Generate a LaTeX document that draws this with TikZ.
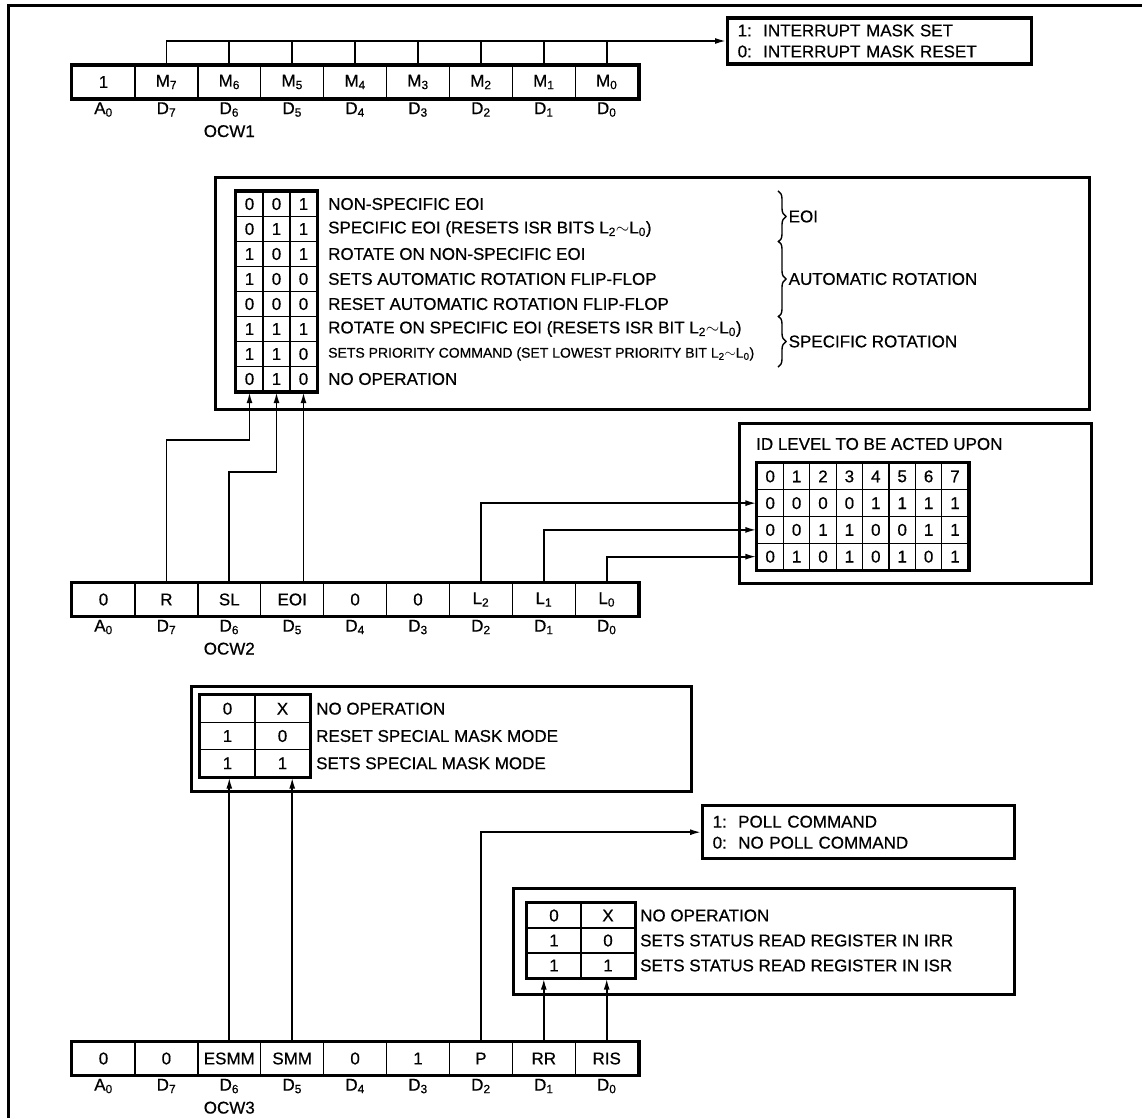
\documentclass[tikz,border=0pt]{standalone}
\usepackage{fontspec}
\setmainfont{Liberation Sans}
\newfontfamily\scanfont{Liberation Sans}[FakeBold=0.6]
\usetikzlibrary{arrows.meta,positioning,calc,decorations.pathreplacing}

\newcommand\txtfont{\scanfont\fontsize{17}{21}\selectfont}
\newcommand\smallrow{\fontsize{14}{15}\selectfont}
\newcommand\bitsub[1]{\textsubscript{#1}}

% one 9-bit command word with its bit names underneath
\newcommand\ocwregister[3]{%
  \foreach \val [count=\i from 0] in {#3}
    \node[regcell] (#1-\i) at ({103.5+62.9*\i}, #2) {\val};
  \draw[thickbox] (#1-0.north west) rectangle (#1-8.south east);
  \foreach \val [count=\i from 0] in {A\bitsub0,D\bitsub7,D\bitsub6,D\bitsub5,D\bitsub4,D\bitsub3,D\bitsub2,D\bitsub1,D\bitsub0}
    \node[bitlbl, below=2pt of #1-\i] (#1-b\i) {\val};
}

\begin{document}
\begin{tikzpicture}[
    x=1pt, y=-1pt,
    >={Latex[length=11pt,width=6pt]},
    thickbox/.style={draw, line width=3.4pt},
    regcell/.style={draw, line width=1.3pt, minimum width=62.9pt,
                    minimum height=33pt, inner sep=0pt, font=\txtfont},
    tcell/.style 2 args={draw, line width=1.3pt, minimum width=#1,
                    minimum height=#2, inner sep=0pt, font=\txtfont},
    bitlbl/.style={font=\txtfont, inner sep=1pt},
    txt/.style={font=\txtfont, inner sep=2pt, anchor=west},
    infobox/.style={thickbox, font=\txtfont, align=left, anchor=north west,
                    inner xsep=10pt},
    conn/.style={line width=1.7pt},
    arr/.style={conn, ->},
    brace/.style={decorate, decoration={brace, amplitude=8pt}, line width=1.4pt},
  ]
  \useasboundingbox (0,0) rectangle (1142,1118);
  \draw[line width=3pt] (8,1118) -- (8,6) -- (1142,6);

  % OCW1
  \ocwregister{w1}{82}{1,M\bitsub7,M\bitsub6,M\bitsub5,M\bitsub4,M\bitsub3,M\bitsub2,M\bitsub1,M\bitsub0}
  \node[bitlbl, below=6pt of w1-b2] (w1name) {OCW1};
  \node[infobox, text width=284pt, minimum height=46pt, anchor=west] (maskbox)
    at (726,41) {1:\ \ INTERRUPT MASK SET\\0:\ \ INTERRUPT MASK RESET};
  \draw[arr] (w1-1.north) |- (maskbox.west);
  \foreach \i in {2,...,8}
    \draw[conn] (w1-\i.north) -- (w1-\i.north |- maskbox.west);

  % OCW2 modes
  \node[thickbox, minimum width=874pt, minimum height=232pt, anchor=north west] (modebox) at (214,176) {};
  \foreach \a/\b/\c/\txt [count=\r from 0] in {
      0/0/1/{NON-SPECIFIC EOI},
      0/1/1/{SPECIFIC EOI (RESETS ISR BITS L\bitsub2$\sim$L\bitsub0)},
      1/0/1/{ROTATE ON NON-SPECIFIC EOI},
      1/0/0/{SETS AUTOMATIC ROTATION FLIP-FLOP},
      0/0/0/{RESET AUTOMATIC ROTATION FLIP-FLOP},
      1/1/1/{ROTATE ON SPECIFIC EOI (RESETS ISR BIT L\bitsub2$\sim$L\bitsub0)},
      1/1/0/{\smallrow SETS PRIORITY COMMAND (SET LOWEST PRIORITY BIT L\bitsub2$\sim$L\bitsub0)},
      0/1/0/{NO OPERATION}} {
    \node[tcell={27pt}{25pt}] (m-\r-0) at (249.5, {204+25*\r}) {\a};
    \node[tcell={27pt}{25pt}] (m-\r-1) at (276.5, {204+25*\r}) {\b};
    \node[tcell={27pt}{25pt}] (m-\r-2) at (303.5, {204+25*\r}) {\c};
    \node[txt] (mt-\r) at (326, {204+25*\r}) {\txt};
  }
  \draw[thickbox] (m-0-0.north west) rectangle (m-7-2.south east);

  \coordinate (bx) at (778,0);
  \draw[brace] (m-0-2.north -| bx) -- (m-1-2.south -| bx)
    node[txt, midway, right=8pt] (grp-eoi) {EOI};
  \draw[brace] (m-2-2.north -| bx) -- (m-4-2.south -| bx)
    node[txt, midway, right=8pt] (grp-auto) {AUTOMATIC ROTATION};
  \draw[brace] (m-5-2.north -| bx) -- (m-6-2.south -| bx)
    node[txt, midway, right=8pt] (grp-spec) {SPECIFIC ROTATION};

  % ID level table
  \node[thickbox, minimum width=352pt, minimum height=160pt, anchor=north west] (idbox) at (738,422) {};
  \node[txt] (idtitle) at (754,444) {ID LEVEL TO BE ACTED UPON};
  \foreach \row [count=\r from 0] in {{0,1,2,3,4,5,6,7},{0,0,0,0,1,1,1,1},{0,0,1,1,0,0,1,1},{0,1,0,1,0,1,0,1}}
    \foreach \v [count=\c from 0] in \row
      \node[tcell={26.4pt}{26.75pt}] (i-\r-\c) at ({770.2+26.4*\c}, {476.4+26.75*\r}) {\v};
  \draw[thickbox] (i-0-0.north west) rectangle (i-3-7.south east);

  % OCW2
  \ocwregister{w2}{599.5}{0,R,SL,EOI,0,0,L\bitsub2,L\bitsub1,L\bitsub0}
  \node[bitlbl, below=6pt of w2-b2] (w2name) {OCW2};
  \coordinate (rjog) at (0,440);
  \coordinate (sljog) at (0,472);
  \draw[arr] (w2-1.north) |- (m-7-0.south |- rjog) -- (m-7-0.south);
  \draw[arr] (w2-2.north) |- (m-7-1.south |- sljog) -- (m-7-1.south);
  \draw[arr] (m-7-2.south |- w2-3.north) -- (m-7-2.south);
  \draw[arr] (w2-6.north) |- (i-1-0.west);
  \draw[arr] (w2-7.north) |- (i-2-0.west);
  \draw[arr] (w2-8.north) |- (i-3-0.west);

  % OCW3 special mask mode
  \node[thickbox, minimum width=500pt, minimum height=105pt, anchor=north west] (smmbox) at (190,685) {};
  \foreach \a/\b/\txt [count=\r from 0] in {0/X/{NO OPERATION}, 1/0/{RESET SPECIAL MASK MODE}, 1/1/{SETS SPECIAL MASK MODE}} {
    \node[tcell={55pt}{27.3pt}] (s-\r-0) at (227.5, {708.7+27.3*\r}) {\a};
    \node[tcell={55pt}{27.3pt}] (s-\r-1) at (282.5, {708.7+27.3*\r}) {\b};
    \node[txt] (st-\r) at (314, {708.7+27.3*\r}) {\txt};
  }
  \draw[thickbox] (s-0-0.north west) rectangle (s-2-1.south east);

  % poll
  \node[infobox, text width=292pt, minimum height=53pt] (pollbox) at (701,804)
    {1:\ \ POLL COMMAND\\0:\ \ NO POLL COMMAND};

  % read register
  \node[thickbox, minimum width=501pt, minimum height=106pt, anchor=north west] (rrbox) at (512,887) {};
  \foreach \a/\b/\txt [count=\r from 0] in {0/X/{NO OPERATION}, 1/0/{SETS STATUS READ REGISTER IN IRR}, 1/1/{SETS STATUS READ REGISTER IN ISR}} {
    \node[tcell={54pt}{25pt}] (r-\r-0) at (554, {915.5+25*\r}) {\a};
    \node[tcell={54pt}{25pt}] (r-\r-1) at (608, {915.5+25*\r}) {\b};
    \node[txt] (rt-\r) at (638, {915.5+25*\r}) {\txt};
  }
  \draw[thickbox] (r-0-0.north west) rectangle (r-2-1.south east);

  % OCW3
  \ocwregister{w3}{1058.5}{0,0,ESMM,SMM,0,1,P,RR,RIS}
  \node[bitlbl, below=6pt of w3-b2] (w3name) {OCW3};
  \draw[arr] (w3-2.north) -- (w3-2.north |- s-2-0.south);
  \draw[arr] (w3-3.north) -- (w3-3.north |- s-2-1.south);
  \draw[arr] (w3-6.north) |- (pollbox.west);
  \draw[arr] (w3-7.north) -- (w3-7.north |- r-2-0.south);
  \draw[arr] (w3-8.north) -- (w3-8.north |- r-2-1.south);
\end{tikzpicture}
\end{document}
